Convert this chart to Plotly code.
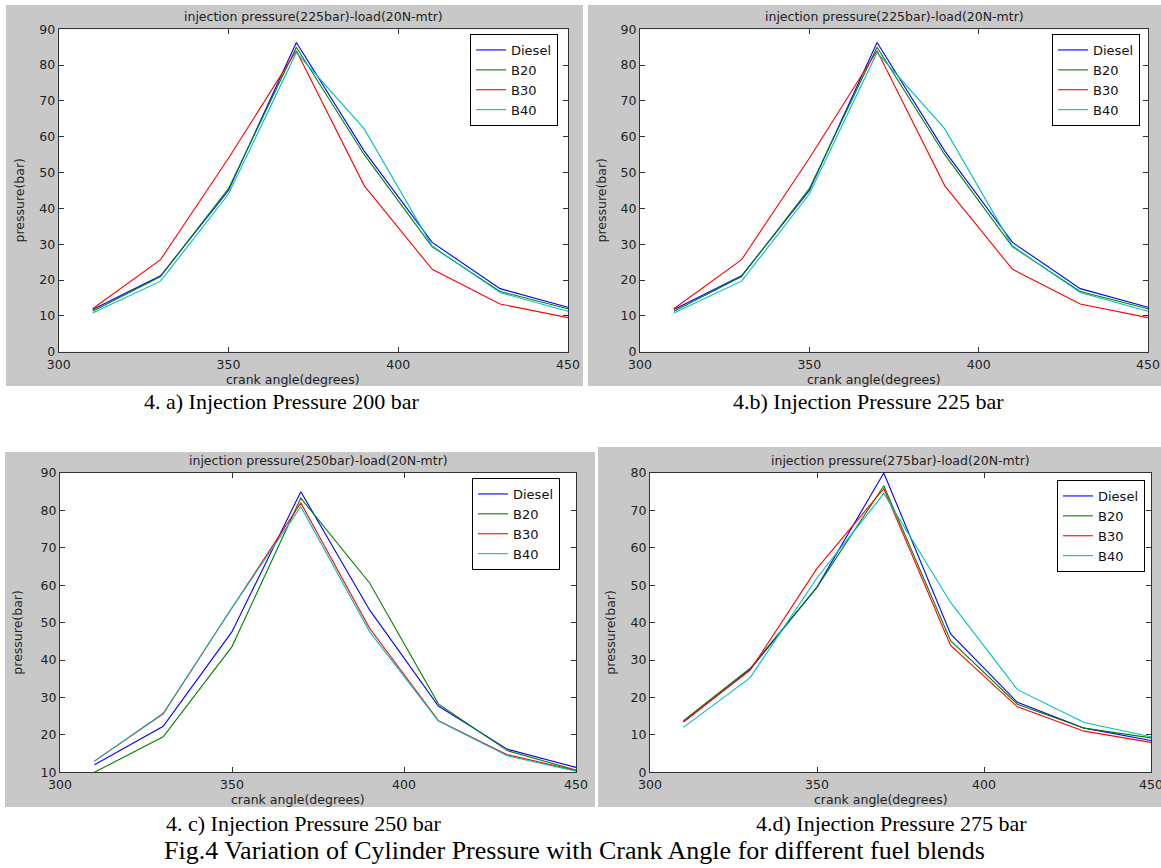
import plotly.graph_objects as go

# ---------------- data ----------------
crank_angle = [310, 330, 350, 370, 390, 410, 430, 450]
fuels = ["Diesel", "B20", "B30", "B40"]

# injection pressure 225 bar (panels a and b)
diesel_225 = [11.8, 21.2, 45.0, 86.3, 56.0, 30.5, 17.6, 12.4]
b20_225 = [11.3, 21.0, 45.5, 85.0, 55.0, 29.3, 16.8, 12.0]
b30_225 = [12.0, 25.7, 54.0, 84.0, 46.3, 23.0, 13.3, 9.5]
b40_225 = [10.8, 19.7, 44.0, 83.5, 62.2, 29.5, 16.5, 11.3]

# injection pressure 250 bar (panel c)
diesel_250 = [12.0, 22.3, 47.6, 85.0, 53.4, 27.7, 16.2, 11.3]
b20_250 = [10.0, 19.5, 43.6, 83.3, 60.6, 28.3, 15.8, 10.6]
b30_250 = [13.0, 25.6, 54.0, 82.0, 48.5, 23.8, 14.7, 10.5]
b40_250 = [13.0, 25.8, 54.0, 81.0, 47.6, 23.7, 14.4, 10.3]

# injection pressure 275 bar (panel d)
diesel_275 = [13.4, 27.5, 49.5, 80.0, 37.0, 18.7, 11.8, 8.5]
b20_275 = [13.8, 27.8, 49.5, 76.6, 35.2, 18.2, 11.8, 9.2]
b30_275 = [13.5, 27.3, 54.5, 75.8, 33.9, 17.5, 11.0, 8.0]
b40_275 = [12.0, 25.3, 52.0, 74.5, 45.4, 22.1, 13.3, 9.5]

panel_titles = [
    "injection pressure(225bar)-load(20N-mtr)",
    "injection pressure(225bar)-load(20N-mtr)",
    "injection pressure(250bar)-load(20N-mtr)",
    "injection pressure(275bar)-load(20N-mtr)",
]
captions = [
    "4. a) Injection Pressure 200 bar",
    "4.b) Injection Pressure 225 bar",
    "4. c) Injection Pressure 250 bar",
    "4.d) Injection Pressure 275 bar",
]
fig_caption = "Fig.4 Variation of Cylinder Pressure with Crank Angle for different fuel blends"
x_title = "crank angle(degrees)"
y_title = "pressure(bar)"

panel_data = [
    [diesel_225, b20_225, b30_225, b40_225],
    [diesel_225, b20_225, b30_225, b40_225],
    [diesel_250, b20_250, b30_250, b40_250],
    [diesel_275, b20_275, b30_275, b40_275],
]
y_ranges = [[0, 90], [0, 90], [10, 90], [0, 80]]

# ---------------- layout geometry (pixels) ----------------
W, H = 1161, 868
colors = ["#0000ff", "#008000", "#ff0000", "#00bfbf"]
GRAY = "#c8c8c8"
SANS = "DejaVu Sans, Verdana, sans-serif"
SERIF = "Liberation Serif, Times New Roman, serif"

# plot area (left, top, right, bottom) in px
plot_px = [
    (58.7, 29.3, 568, 351.7),
    (640, 29.3, 1148, 351.7),
    (60, 473, 576, 772.3),
    (650, 473, 1151, 772.3),
]
# gray panel backgrounds
gray_px = [
    (6, 5, 583, 386),
    (588, 5, 1161, 386),
    (5, 452, 595, 807),
    (598, 447, 1161, 807),
]
# legend box top-right corner
legend_px = [(558, 34), (1140, 34), (560, 478), (1145, 480)]
caption_px = [(282, 402), (868, 402), (304, 823), (891, 823)]


def px(x):
    return x / W


def py(y):
    return 1 - y / H


fig = go.Figure()
shapes = []
annotations = []
layout = dict(
    width=W,
    height=H,
    autosize=False,
    margin=dict(l=0, r=0, t=0, b=0, pad=0, autoexpand=False),
    paper_bgcolor="white",
    plot_bgcolor="white",
    showlegend=True,
    font=dict(family=SANS, color="#222222"),
)

for i in range(4):
    n = "" if i == 0 else str(i + 1)
    xa, ya = "x" + n, "y" + n
    l, t, r, b = plot_px[i]
    leg = "legend" if i == 0 else "legend" + str(i + 1)

    for j, fuel in enumerate(fuels):
        fig.add_trace(
            go.Scatter(
                x=crank_angle,
                y=panel_data[i][j],
                mode="lines",
                name=fuel,
                line=dict(color=colors[j], width=1.1),
                xaxis=xa,
                yaxis=ya,
                legend=leg,
                showlegend=True,
            )
        )

    axis_common = dict(
        showgrid=False,
        zeroline=False,
        showline=True,
        linecolor="#333333",
        linewidth=1,
        mirror="ticks",
        ticks="inside",
        ticklen=5,
        tickcolor="#333333",
        automargin=False,
        ticklabeloverflow="allow",
        tickfont=dict(size=12.5, color="#222222", family=SANS),
    )
    layout["xaxis" + n] = dict(
        axis_common,
        domain=[px(l), px(r)],
        range=[300, 450],
        dtick=50,
        tick0=300,
        anchor=ya,
        ticklabelstandoff=1,
    )
    layout["yaxis" + n] = dict(
        axis_common,
        domain=[py(b), py(t)],
        range=y_ranges[i],
        dtick=10,
        tick0=0,
        anchor=xa,
    )

    gl, gt, gr, gb = gray_px[i]
    shapes.append(
        dict(type="rect", xref="paper", yref="paper", x0=px(gl), x1=px(gr),
             y0=py(gb), y1=py(gt), fillcolor=GRAY, line=dict(width=0), layer="below")
    )
    shapes.append(
        dict(type="rect", xref=xa + " domain", yref=ya + " domain", x0=0, x1=1,
             y0=0, y1=1, fillcolor="white", line=dict(width=0), layer="below")
    )

    lx, ly = legend_px[i]
    layout[leg] = dict(
        x=px(lx), y=py(ly), xanchor="right", yanchor="top",
        xref="paper", yref="paper",
        bgcolor="white", bordercolor="black", borderwidth=1,
        font=dict(size=13, color="#111111", family=SANS),
        itemwidth=30, tracegroupgap=0,
    )

    cx = (l + r) / 2
    annotations.append(
        dict(text=panel_titles[i], x=px(cx), y=py(t - 13), xref="paper", yref="paper",
             showarrow=False, font=dict(size=12.5, color="#222222", family=SANS),
             xanchor="center", yanchor="middle")
    )
    annotations.append(
        dict(text=x_title, x=px(cx - 20), y=py(b + 27.5), xref="paper", yref="paper",
             showarrow=False, font=dict(size=12.5, color="#222222", family=SANS),
             xanchor="center", yanchor="middle")
    )
    annotations.append(
        dict(text=y_title, x=px(gl + 13), y=py((t + b) / 2 + 10), xref="paper", yref="paper",
             showarrow=False, textangle=-90, font=dict(size=12.5, color="#222222", family=SANS),
             xanchor="center", yanchor="middle")
    )
    capx, capy = caption_px[i]
    annotations.append(
        dict(text=captions[i], x=px(capx), y=py(capy), xref="paper", yref="paper",
             showarrow=False, font=dict(size=22, color="black", family=SERIF),
             xanchor="center", yanchor="middle")
    )

annotations.append(
    dict(text=fig_caption, x=px(574), y=py(850), xref="paper", yref="paper",
         showarrow=False, font=dict(size=26, color="black", family=SERIF),
         xanchor="center", yanchor="middle")
)

layout["shapes"] = shapes
layout["annotations"] = annotations
fig.update_layout(**layout)
fig.write_html(
    "out.html",
    config={"displayModeBar": False},
    post_script="document.body.style.margin='0';document.body.style.overflow='hidden';",
)
